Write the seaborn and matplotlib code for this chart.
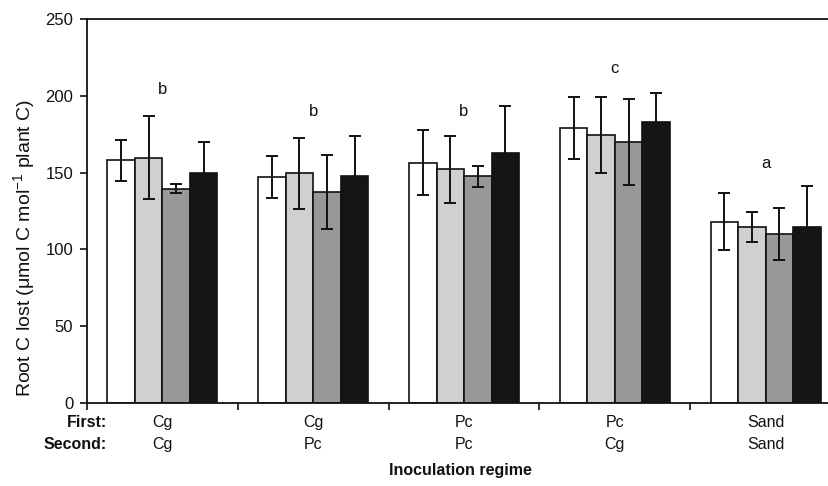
import pandas as pd
import matplotlib
matplotlib.use('Agg')
import matplotlib.pyplot as plt
import seaborn as sns
import numpy as np

# 数据：五种接种方式，每组四个处理
first_inoc = ['Cg', 'Cg', 'Pc', 'Pc', 'Sand']
second_inoc = ['Cg', 'Pc', 'Pc', 'Cg', 'Sand']
regimes = [f'{a}/{b}' for a, b in zip(first_inoc, second_inoc)]
treatments = ['T1', 'T2', 'T3', 'T4']

mean_t1 = [158, 147, 156.5, 179, 118]
mean_t2 = [159.5, 149.5, 152, 174.5, 114.5]
mean_t3 = [139.5, 137.5, 147.5, 170, 110]
mean_t4 = [149.5, 148, 163, 183, 114.5]

err_t1 = [13.5, 13.5, 21, 20.5, 18.5]
err_t2 = [27, 23, 22, 25, 9.5]
err_t3 = [3, 24, 7, 28, 17]
err_t4 = [20.5, 25.5, 30.5, 18.5, 26.5]

letters = ['b', 'b', 'b', 'c', 'a']
letter_y = [204, 190, 190, 218, 156]

bar_colors = ['#ffffff', '#d0d0d0', '#989898', '#151515']

sns.set_style("white")
plt.rcParams['font.family'] = ['Liberation Sans', 'DejaVu Sans']
plt.rcParams['mathtext.fontset'] = 'custom'
plt.rcParams['mathtext.rm'] = 'Liberation Sans'
plt.rcParams['mathtext.it'] = 'Liberation Sans:italic'
narrow = ['Liberation Sans Narrow', 'Liberation Sans', 'DejaVu Sans']

means = [mean_t1, mean_t2, mean_t3, mean_t4]
errs = [err_t1, err_t2, err_t3, err_t4]
rows = []
for t, m, e in zip(treatments, means, errs):
    for r, mv, ev in zip(regimes, m, e):
        rows.append({'regime': r, 'treatment': t, 'value': mv, 'err': ev})
df = pd.DataFrame(rows)

fig = plt.figure(figsize=(8.29, 4.86), dpi=100)
ax = fig.add_axes([0.105, 0.171, 0.9095, 0.790])

sns.barplot(data=df, x='regime', y='value', hue='treatment', order=regimes,
            hue_order=treatments, palette=bar_colors, width=0.73,
            edgecolor='#111111', linewidth=1.2, saturation=1, errorbar=None,
            legend=False, ax=ax)

# 误差线：按柱子位置绘制（黑色柱子的下半部分藏在柱子后面）
for k, (cont, t) in enumerate(zip(ax.containers, treatments)):
    sub = df[df['treatment'] == t].set_index('regime').loc[regimes]
    xs = [p.get_x() + p.get_width() / 2 for p in cont.patches]
    z = 0.5 if k == len(treatments) - 1 else 5
    ax.errorbar(xs, sub['value'], yerr=sub['err'], fmt='none', ecolor='#111111',
                elinewidth=1.4, capsize=4, capthick=1.4, zorder=z)

for i, (lt, ly) in enumerate(zip(letters, letter_y)):
    ax.text(i, ly, lt, ha='center', va='center', fontsize=12, color='#111111')

ax.set_xlim(-0.5, 4.5)
ax.set_ylim(0, 250)
ax.set_yticks(np.arange(0, 251, 50))
ax.set_xticks(np.arange(-0.5, 4.6, 1.0))
ax.set_xticklabels([])
ax.tick_params(axis='both', direction='out', length=5, width=1.2, color='#111111',
               left=True, bottom=True)
ax.tick_params(axis='y', labelsize=12, labelcolor='#111111', pad=5)
for side in ['left', 'bottom', 'top']:
    ax.spines[side].set_visible(True)
    ax.spines[side].set_color('#111111')
    ax.spines[side].set_linewidth(1.3)
ax.spines['right'].set_visible(False)

ax.set_xlabel('')
ax.set_ylabel(r'Root C lost ($\mathrm{\mu}$mol C mol$^{-1}$ plant C)', fontsize=14,
              color='#111111')
ax.yaxis.set_label_coords(-0.066, 0.404)

trans = ax.get_xaxis_transform()
ax.text(0.0265, -0.052, 'First:', transform=ax.transAxes, ha='right', va='center',
        fontsize=11.5, fontweight='bold', family=narrow, color='#111111')
ax.text(0.0265, -0.109, 'Second:', transform=ax.transAxes, ha='right', va='center',
        fontsize=11.5, fontweight='bold', family=narrow, color='#111111')
for i, (a, b) in enumerate(zip(first_inoc, second_inoc)):
    ax.text(i, -0.052, a, transform=trans, ha='center', va='center',
            fontsize=11.5, family=narrow, color='#111111')
    ax.text(i, -0.109, b, transform=trans, ha='center', va='center',
            fontsize=11.5, family=narrow, color='#111111')
ax.text((460 - 87) / 754, -0.177, 'Inoculation regime', transform=ax.transAxes,
        ha='center', va='center', fontsize=11.5, fontweight='bold', family=narrow,
        color='#111111')

fig.savefig('out.png', dpi=100)
plt.close(fig)
